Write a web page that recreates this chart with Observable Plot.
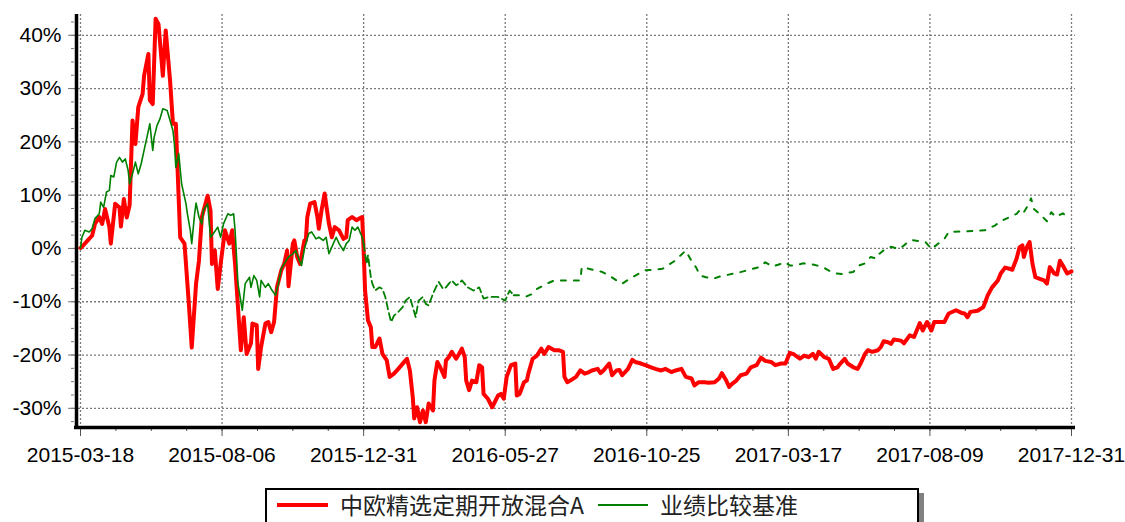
<!DOCTYPE html>
<html>
<head>
<meta charset="utf-8">
<script src="https://cdn.jsdelivr.net/npm/d3@7"></script>
<script src="https://cdn.jsdelivr.net/npm/@observablehq/plot@0.6"></script>
<style>
  body { margin: 0; background: #fff; font-family: "Liberation Sans", Arial, sans-serif; overflow: hidden; }
  #chart { position: absolute; left: 0; top: 0; }
  #legend { position: absolute; left: 265px; top: 488px; width: 650px; height: 52px; border: 2px solid #000; background: #fff; box-shadow: 5px 5px 0 #808080; font-family: "Noto Sans CJK SC", sans-serif; font-size: 23px; color: #222; }
  .sw { position: absolute; height: 0; }
  .lt { position: absolute; top: -1px; line-height: 30px; white-space: nowrap; }
</style>
</head>
<body>
<div id="chart"></div>
<div id="legend">
  <div class="sw" style="left:10px; top:13px; width:51px; border-top:4px solid #ff0000;"></div>
  <div class="lt" id="n1" style="left:73px;"></div>
  <div class="sw" style="left:331px; top:14px; width:50px; border-top:2px solid #008000;"></div>
  <div class="lt" id="n2" style="left:393px;"></div>
</div>
<script>
// Series names
const seriesNames = ["中欧精选定期开放混合A", "业绩比较基准"];

// X axis: trading-day index with date labels
const tickDays = [0, 98, 196, 294, 392, 490, 588, 686];
const tickLabels = ["2015-03-18", "2015-08-06", "2015-12-31", "2016-05-27", "2016-10-25", "2017-03-17", "2017-08-09", "2017-12-31"];
const yTicks = [-30, -20, -10, 0, 10, 20, 30, 40];

// Fund (red) cumulative return, %
const fundDay = [0,2,5,7,8,10,13,15,17,20,21,24,27,28,30,32,34,36,38,40,43,44,47,48,50,52,54,57,59,62,64,66,69,72,75,77,80,82,84,88,90,91,93,95,97,100,103,105,107,111,113,115,118,119,122,123,125,128,130,132,134,136,139,141,143,144,147,148,150,152,155,156,157,159,162,164,165,167,169,172,174,176,179,182,184,185,188,191,193,195,196,197,199,201,202,204,207,209,212,214,217,220,225,226,228,230,231,233,235,237,239,241,244,245,247,249,252,253,255,257,260,262,264,266,267,269,271,274,276,278,279,282,285,289,291,293,295,298,301,302,304,307,309,310,313,316,319,321,324,328,331,334,335,337,339,343,346,349,352,354,358,360,362,366,368,371,373,375,379,382,384,388,391,395,398,402,405,409,412,416,419,423,425,428,432,435,439,442,444,447,449,451,454,457,461,464,468,471,474,478,481,485,488,491,494,498,501,504,507,509,511,515,518,521,524,526,529,531,535,538,540,543,545,548,552,554,556,559,561,563,568,570,574,577,581,583,586,589,591,595,598,601,606,610,612,614,616,621,625,628,631,635,637,640,643,645,648,650,652,653,655,657,659,661,664,667,669,671,674,676,678,680,683,686];
const fundRet = [0.1,0.6,1.5,2.1,2.4,4.6,5.9,4.6,7.4,4.0,0.9,8.4,7.7,4.1,9.3,5.8,8.1,24.0,19.6,26.5,29.0,32.4,36.5,27.8,27.1,43.1,42.1,32.4,40.9,31.5,23.4,23.4,2.1,0.9,-10.4,-18.6,-6.6,-2.3,5.9,9.9,7.1,-2.9,-0.4,-7.6,-2.9,3.4,0.9,3.4,-2.9,-19.1,-12.9,-19.8,-17.8,-14.1,-14.4,-22.6,-18.5,-14.1,-13.8,-15.7,-13.8,-7.3,-4.1,-2.9,-0.4,-7.1,0.9,1.5,-1.6,-2.9,1.5,1.5,5.9,8.4,8.7,5.9,3.7,7.4,10.3,4.6,2.1,4.0,3.4,1.8,2.1,5.3,5.9,5.3,5.6,5.9,-0.4,-7.9,-13.5,-14.8,-18.5,-18.5,-16.9,-19.8,-21.0,-24.1,-23.5,-22.6,-21.0,-20.7,-22.9,-27.9,-31.9,-29.8,-32.6,-30.4,-32.6,-29.1,-30.4,-24.8,-21.3,-22.3,-24.1,-21.0,-20.4,-19.4,-20.7,-19.8,-18.8,-20.4,-24.8,-26.6,-24.8,-25.1,-21.9,-22.3,-27.3,-28.2,-29.8,-27.6,-27.3,-28.2,-24.1,-21.9,-21.6,-27.6,-27.3,-25.1,-24.8,-23.5,-20.7,-20.1,-18.8,-19.8,-18.5,-19.1,-19.1,-19.4,-24.1,-25.1,-24.8,-24.1,-22.9,-23.5,-23.2,-22.9,-22.6,-23.4,-22.9,-21.6,-23.8,-22.9,-22.8,-23.8,-22.6,-20.9,-21.3,-21.6,-21.9,-22.3,-22.6,-22.9,-22.6,-23.2,-22.9,-22.6,-24.1,-24.4,-25.7,-25.1,-25.1,-25.2,-25.1,-24.4,-23.4,-24.8,-26.0,-25.4,-24.8,-23.8,-23.5,-22.3,-21.9,-20.5,-21.1,-21.3,-21.9,-21.6,-21.6,-19.6,-19.9,-20.7,-20.1,-20.4,-19.8,-20.7,-19.4,-20.4,-20.7,-22.6,-22.3,-21.6,-20.7,-21.6,-22.3,-22.6,-21.6,-19.8,-19.1,-19.4,-19.1,-18.5,-17.4,-17.6,-17.9,-17.1,-17.3,-17.8,-16.3,-16.6,-14.0,-15.4,-13.8,-15.4,-13.8,-13.8,-13.8,-12.2,-11.6,-12.1,-12.2,-12.9,-11.9,-11.7,-11.0,-8.8,-7.3,-6.0,-4.7,-3.6,-3.8,-4.0,-1.9,0.2,0.6,-1.6,0.2,1.2,-2.9,-5.4,-5.7,-6.0,-6.6,-3.5,-4.7,-4.9,-2.3,-3.2,-4.7,-4.3];

// Benchmark (green) cumulative return, %
const benchDay = [0,1,3,6,8,10,13,14,16,18,20,21,23,25,27,29,31,33,34,36,38,40,42,44,46,48,50,51,53,55,57,60,62,64,65,66,68,70,71,73,74,76,77,79,80,82,84,85,88,90,92,95,97,99,102,104,106,107,109,112,114,117,118,120,122,124,125,128,130,132,135,137,139,141,144,147,149,151,153,155,158,160,163,165,168,170,172,175,177,179,182,184,186,188,190,192,195,196,198,199,201,202,204,207,209,211,213,215,217,220,223,225,228,230,232,234,237,239,241,244,246,248,251,253,255,257,260,262,264,268,272,276,279,283,289,294,297,300,304,308,313,316,323,328,332,339,346,347,361,366,371,375,380,384,391,397,403,411,419,422,426,429,433,438,442,456,470,474,479,488,491,495,500,507,514,521,527,535,539,543,547,551,553,557,561,567,571,575,580,585,589,598,601,613,626,633,637,648,651,653,656,658,660,665,669,672,675,680,683,685];
const benchRet = [0.1,2.1,3.4,3.1,3.7,5.6,6.5,8.7,7.7,10.6,10.9,13.7,13.4,16.2,17.1,16.2,16.8,14.6,12.1,14.0,16.2,14.0,15.9,18.4,20.9,23.4,18.4,20.9,23.1,24.3,26.2,25.9,24.0,22.1,19.6,15.2,17.8,12.1,10.9,8.4,6.5,3.4,0.9,6.5,8.5,5.9,4.6,7.1,8.4,2.1,2.8,4.0,2.1,4.6,6.5,6.2,6.5,3.4,-6.6,-11.6,-6.6,-5.4,-7.3,-5.1,-6.0,-9.1,-6.0,-7.3,-6.6,-7.6,-8.8,-6.6,-3.8,-2.9,-1.6,-1.0,-0.4,-1.9,-3.2,-0.1,2.8,3.1,1.8,2.1,1.5,2.1,-1.0,0.9,2.1,0.9,-0.4,0.9,1.5,4.0,3.4,4.0,2.1,0.9,-2.9,-1.3,-5.4,-6.6,-7.9,-7.3,-7.6,-9.1,-11.6,-13.8,-12.6,-11.9,-11.0,-9.8,-9.1,-11.0,-12.9,-9.8,-9.1,-10.4,-10.7,-8.5,-7.3,-6.3,-7.6,-7.3,-6.6,-6.0,-6.9,-6.6,-6.0,-7.3,-7.9,-7.3,-9.4,-9.1,-9.1,-9.8,-7.9,-8.8,-8.8,-9.1,-8.5,-7.6,-6.6,-6.0,-6.0,-6.0,-6.0,-3.5,-4.4,-5.1,-6.0,-6.6,-5.7,-5.1,-4.1,-4.0,-3.8,-2.4,-0.4,-1.9,-3.5,-5.1,-5.4,-5.7,-5.3,-4.5,-3.5,-2.6,-3.4,-2.6,-3.2,-3.2,-2.8,-3.0,-3.5,-4.6,-4.8,-4.4,-3.2,-2.8,-1.6,-1.9,-1.0,-0.1,0.3,-0.1,0.8,1.6,1.4,1.2,-0.1,1.8,3.1,3.2,3.4,4.3,5.1,6.5,7.4,6.8,8.1,9.4,7.4,6.2,5.1,6.8,5.9,6.6,5.9,5.6];

document.getElementById("n1").textContent = seriesNames[0];
document.getElementById("n2").textContent = seriesNames[1];

const fund = fundDay.map((d, i) => ({day: d, ret: fundRet[i]}));
const bench = benchDay.map((d, i) => ({day: d, ret: benchRet[i]}));
const labelOf = new Map(tickDays.map((d, i) => [d, tickLabels[i]]));
const minorX = d3.range(0, 687, 24.5);
const minorY = d3.range(-32.5, 44, 2.5);

const chart = Plot.plot({
  width: 1125,
  height: 478,
  marginLeft: 74,
  marginRight: 50,
  marginTop: 14,
  marginBottom: 51,
  style: {fontFamily: "'Liberation Sans', Arial, sans-serif", background: "#fff", color: "#000"},
  x: {domain: [0, 686], insetLeft: 6, insetRight: 4},
  y: {domain: [-33.6, 43.9]},
  marks: [
    Plot.gridY(yTicks, {stroke: "#7a7a7a", strokeOpacity: 1, strokeWidth: 1.3, strokeDasharray: "2,2"}),
    Plot.gridX(tickDays, {stroke: "#7a7a7a", strokeOpacity: 1, strokeWidth: 1.3, strokeDasharray: "2,2"}),
    Plot.axisY(minorY, {tickSize: 3, tickFormat: () => "", stroke: "#777", label: null}),
    Plot.axisY(yTicks, {tickSize: 6, tickPadding: 7, tickFormat: d => d + "%", stroke: "#777", fill: "#000", fontSize: 21, label: null}),
    Plot.axisX(minorX, {tickSize: 4, tickFormat: () => "", stroke: "#555", label: null}),
    Plot.axisX(tickDays, {tickSize: 9, tickPadding: 11, tickFormat: d => labelOf.get(d), stroke: "#555", fill: "#000", fontSize: 21, label: null}),
    Plot.line(fund, {x: "day", y: "ret", stroke: "#ff0000", strokeWidth: 4, strokeLinejoin: "round", strokeLinecap: "round"}),
    Plot.line(bench.filter(d => d.day <= 196), {x: "day", y: "ret", stroke: "#008000", strokeWidth: 1.6}),
    Plot.line(bench.filter(d => d.day >= 196 && d.day <= 300), {x: "day", y: "ret", stroke: "#008000", strokeWidth: 1.8, strokeDasharray: "7,4"}),
    Plot.line(bench.filter(d => d.day >= 300), {x: "day", y: "ret", stroke: "#008000", strokeWidth: 2, strokeDasharray: "5,8"}),
    Plot.ruleX([0], {dx: -4, stroke: "#000", strokeWidth: 3.5}),
    Plot.ruleY([-33.6], {stroke: "#000", strokeWidth: 3.5})
  ]
});
document.getElementById("chart").appendChild(chart);
</script>
</body>
</html>
